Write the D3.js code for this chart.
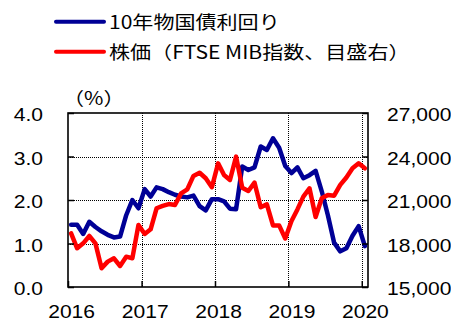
<!DOCTYPE html>
<html>
<head>
<meta charset="utf-8">
<script src="https://cdn.jsdelivr.net/npm/d3@7"></script>
<style>
  body { margin: 0; background: #fff; }
  svg { display: block; }
</style>
</head>
<body>
<svg id="chart" width="451" height="320"></svg>
<script>
// Monthly observations, Jan 2016 – Jan 2020
const months = [
  "2016-01","2016-02","2016-03","2016-04","2016-05","2016-06","2016-07","2016-08","2016-09","2016-10","2016-11","2016-12",
  "2017-01","2017-02","2017-03","2017-04","2017-05","2017-06","2017-07","2017-08","2017-09","2017-10","2017-11","2017-12",
  "2018-01","2018-02","2018-03","2018-04","2018-05","2018-06","2018-07","2018-08","2018-09","2018-10","2018-11","2018-12",
  "2019-01","2019-02","2019-03","2019-04","2019-05","2019-06","2019-07","2019-08","2019-09","2019-10","2019-11","2019-12",
  "2020-01"
];

// Italian 10-year government bond yield (%), left axis
const yield10y = [
  1.43, 1.43, 1.22, 1.50, 1.38, 1.28, 1.20, 1.14, 1.16, 1.65, 2.00, 1.81,
  2.25, 2.08, 2.29, 2.25, 2.18, 2.12, 2.08, 2.06, 2.10, 1.86, 1.76, 2.02,
  2.02, 1.97, 1.80, 1.79, 2.77, 2.69, 2.75, 3.23, 3.15, 3.42, 3.20, 2.78,
  2.62, 2.75, 2.50, 2.57, 2.67, 2.20, 1.65, 1.02, 0.82, 0.89, 1.18, 1.40,
  0.94
];

// FTSE MIB index, right axis
const ftseMib = [
  18700, 17670, 18010, 18520, 18010, 16290, 16750, 16980, 16450, 17090, 16980, 19280,
  18660, 18980, 20430, 20590, 20720, 20660, 21460, 21740, 22660, 22880, 22500, 21880,
  23530, 22720, 22380, 23990, 21850, 21620, 22200, 20500, 20700, 19250, 19250, 18350,
  19550, 20350, 21230, 21810, 19830, 21120, 21350, 21300, 22040, 22550, 23190, 23530,
  23190
];

const yearLabels = ["2016", "2017", "2018", "2019", "2020"];
const leftTicks = [0, 1, 2, 3, 4];
const rightTicks = [15000, 18000, 21000, 24000, 27000];
const legendLabels = ["10年物国債利回り", "株価（FTSE MIB指数、目盛右）"];
const seriesColors = ["#000096", "#ff0000"];
const unitLabel = "（%）";

// ---- layout ----
const plot = { left: 68, right: 368, top: 113, bottom: 287 };
const numFont = "'Liberation Sans', Arial, sans-serif";
const cjkFont = "'Noto Sans CJK JP', 'Noto Sans', sans-serif";
const stretch = 1.17; // wide lettering of the chart's type

const svg = d3.select("#chart");

const parseMonth = d3.timeParse("%Y-%m");
const monthMid = d => new Date((+d + +d3.timeMonth.offset(d, 1)) / 2);
const dates = months.map(parseMonth);
const yearStarts = yearLabels.map(y => new Date(+y, 0, 1));

const x = d3.scaleTime()
  .domain([new Date(2016, 0, 1), new Date(2020, 1, 1)])
  .range([plot.left, plot.right]);
const yL = d3.scaleLinear().domain([0, 4]).range([plot.bottom, plot.top]);
const yR = d3.scaleLinear().domain([15000, 27000]).range([plot.bottom, plot.top]);

// ---- dotted grid ----
const grid = svg.append("g")
  .attr("stroke", "#000")
  .attr("stroke-width", 1)
  .attr("stroke-dasharray", "1,1")
  .attr("shape-rendering", "crispEdges");
grid.selectAll("line.h")
  .data(leftTicks.filter(v => v > 0 && v < 4))
  .join("line")
  .attr("x1", plot.left).attr("x2", plot.right)
  .attr("y1", d => Math.round(yL(d)) + 0.5).attr("y2", d => Math.round(yL(d)) + 0.5);
grid.selectAll("line.v")
  .data(yearStarts.slice(1))
  .join("line")
  .attr("x1", d => Math.round(x(d)) + 0.5).attr("x2", d => Math.round(x(d)) + 0.5)
  .attr("y1", plot.top).attr("y2", plot.bottom);

// ---- series ----
const yieldLine = d3.line()
  .x((d, i) => x(monthMid(dates[i])))
  .y(d => yL(d));
const ftseLine = d3.line()
  .x((d, i) => x(monthMid(dates[i])))
  .y(d => yR(d));

svg.append("path")
  .datum(yield10y)
  .attr("d", yieldLine)
  .attr("fill", "none")
  .attr("stroke", seriesColors[0])
  .attr("stroke-width", 4.5)
  .attr("stroke-linejoin", "round")
  .attr("stroke-linecap", "round");

svg.append("path")
  .datum(ftseMib)
  .attr("d", ftseLine)
  .attr("fill", "none")
  .attr("stroke", seriesColors[1])
  .attr("stroke-width", 4.5)
  .attr("stroke-linejoin", "round")
  .attr("stroke-linecap", "round");

// ---- axes (ticks point inward) ----
function styleAxis(g) {
  g.select(".domain").remove();
  g.selectAll(".tick line").attr("stroke", "#000").attr("stroke-width", 1.5);
  g.selectAll(".tick text")
    .attr("fill", "#000")
    .style("font-family", numFont)
    .style("font-size", "18px");
}

const leftAxis = svg.append("g")
  .attr("transform", `translate(${plot.left},0)`)
  .call(d3.axisLeft(yL).tickValues(leftTicks).tickFormat(d3.format(".1f")).tickSize(-6))
  .call(styleAxis);
leftAxis.selectAll(".tick text")
  .attr("x", 0).attr("dy", "0.42em")
  .attr("transform", `translate(-25,0) scale(${stretch},1)`);

const rightAxis = svg.append("g")
  .attr("transform", `translate(${plot.right},0)`)
  .call(d3.axisRight(yR).tickValues(rightTicks).tickFormat(d3.format(",")).tickSize(-6))
  .call(styleAxis);
rightAxis.selectAll(".tick text")
  .attr("x", 0).attr("dy", "0.42em")
  .attr("transform", `translate(19,0) scale(${stretch},1)`);

const labelShift = x(monthMid(yearStarts[0])) - x(yearStarts[0]);
const bottomAxis = svg.append("g")
  .attr("transform", `translate(0,${plot.bottom})`)
  .call(d3.axisBottom(x).tickValues(yearStarts).tickFormat((d, i) => yearLabels[i]).tickSize(-6))
  .call(styleAxis);
bottomAxis.selectAll(".tick text")
  .attr("x", 0).attr("y", 0).attr("dy", 0)
  .attr("transform", `translate(${labelShift},31) scale(${stretch},1)`);

// ---- plot frame ----
svg.append("rect")
  .attr("x", plot.left).attr("y", plot.top)
  .attr("width", plot.right - plot.left).attr("height", plot.bottom - plot.top)
  .attr("fill", "none")
  .attr("stroke", "#000")
  .attr("stroke-width", 1.6);

// ---- unit label ----
svg.append("text")
  .attr("transform", `translate(63,105) scale(${stretch},1)`)
  .style("font-family", cjkFont)
  .style("font-size", "18px")
  .attr("fill", "#000")
  .text(unitLabel);

// ---- legend ----
const legend = svg.append("g");
const legendRows = legend.selectAll("g")
  .data(legendLabels)
  .join("g")
  .attr("transform", (d, i) => `translate(0,${21.7 + i * 30})`);
legendRows.append("line")
  .attr("x1", 56).attr("x2", 104)
  .attr("y1", 0).attr("y2", 0)
  .attr("stroke", (d, i) => seriesColors[i])
  .attr("stroke-width", 4)
  .attr("stroke-linecap", "round");
legendRows.append("text")
  .attr("transform", `translate(109,6.8) scale(${stretch},1)`)
  .style("font-family", cjkFont)
  .style("font-size", "18px")
  .attr("fill", "#000")
  .text(d => d);
</script>
</body>
</html>
